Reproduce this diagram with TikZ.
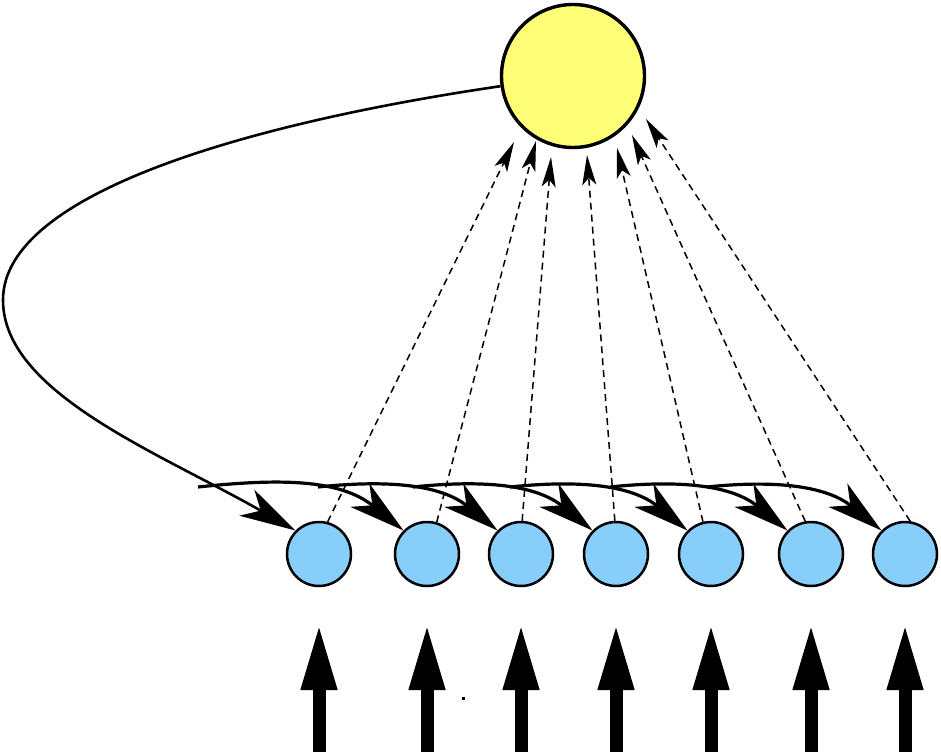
\documentclass[tikz,border=0pt]{standalone}
\usetikzlibrary{arrows.meta,calc}
\definecolor{sunyellow}{RGB}{255,255,119}
\definecolor{cellblue}{RGB}{135,206,250}
\tikzset{
  sunnode/.style={circle,draw,line width=3.4pt,fill=sunyellow,minimum size=143pt,inner sep=0pt},
  cell/.style={circle,draw,line width=2.5pt,fill=cellblue,minimum size=64pt,inner sep=0pt},
  hop/.style={line width=3.2pt,-{Stealth[length=56pt,width=30pt,inset=16pt]}},
  feed/.style={line width=1.5pt,dash pattern=on 7pt off 5pt,-{Stealth[length=30pt,width=14pt,inset=7pt]}},
  inarrow/.style={line width=13pt,-{Triangle[length=67pt,width=33pt]}}
}
\begin{document}
\begin{tikzpicture}[line cap=butt,line join=round,x=1pt,y=1pt]
\useasboundingbox (0,0) rectangle (941,753);
% sun
\node[sunnode] (s) at (573,677) {};
% cells
\foreach \x [count=\i] in {319,427,521,616,711,811,905}
  \node[cell] (b\i) at (\x,199) {};
% inputs from below
\foreach \i in {1,...,7}
  \draw[inarrow] ($(b\i)+(0,-198)$) -- ($(b\i)+(0,-69)$);
\fill (462,53) rectangle (465,56);
% dashed links up to the sun
\foreach \a/\tx/\ty [count=\i] in {75/514/611,73/536/612,88/551/596,92/587/598,104/617/605,100/632/618,81/646/634}
  {\coordinate (t\i) at (\tx,\ty);
   \draw[feed] (b\i.\a) -- (t\i);}
% hops from cell to cell
\foreach \sx [count=\i from 2] in {198,318,413,510,610,707}
  {\coordinate (h\i) at (\sx,266);
   \draw[hop] (h\i) to[out=6,in=141] (b\i.135);}
% loop back from the sun
\draw[hop,line width=2.6pt] (s.188) .. controls (250,630) and (3,560) .. (3,453)
  .. controls (3,360) and (160,300) .. (b1.135);
\end{tikzpicture}
\end{document}
